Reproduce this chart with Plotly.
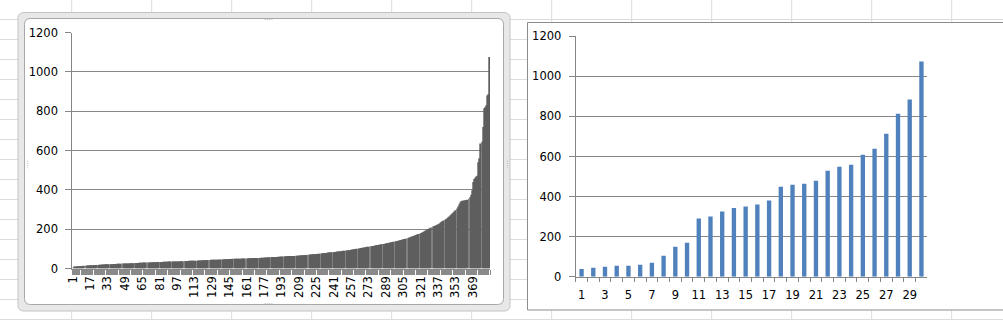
import plotly.graph_objects as go

W, H = 1003, 320

# ---------------- data ----------------
left_values = [
    5, 8, 10, 10, 11, 11, 12, 12, 13, 13, 14, 14, 14, 15, 15, 15,
    16, 16, 17, 17, 17, 18, 18, 18, 19, 19, 19, 20, 20, 20, 21, 21,
    21, 22, 22, 22, 22, 23, 23, 23, 23, 24, 24, 24, 24, 25, 25, 25,
    25, 26, 26, 26, 26, 27, 27, 27, 27, 28, 28, 28, 28, 29, 29, 29,
    29, 30, 30, 30, 30, 31, 31, 31, 31, 32, 32, 32, 32, 32, 33, 33,
    33, 33, 33, 34, 34, 34, 34, 34, 35, 35, 35, 35, 35, 35, 36, 36,
    36, 36, 36, 37, 37, 37, 37, 38, 38, 38, 38, 39, 39, 39, 39, 40,
    40, 40, 40, 41, 41, 41, 41, 42, 42, 42, 42, 43, 43, 43, 43, 44,
    44, 44, 44, 45, 45, 45, 45, 46, 46, 46, 46, 47, 47, 47, 47, 48,
    48, 48, 48, 49, 49, 49, 49, 50, 50, 50, 50, 50, 51, 51, 51, 51,
    51, 52, 52, 52, 52, 53, 53, 53, 53, 54, 54, 54, 54, 55, 55, 55,
    55, 56, 56, 56, 57, 57, 57, 58, 58, 58, 59, 59, 59, 60, 60, 60,
    61, 61, 61, 62, 62, 62, 63, 63, 63, 63, 64, 64, 64, 65, 65, 65,
    66, 66, 67, 67, 68, 68, 69, 69, 70, 70, 71, 71, 72, 72, 73, 73,
    74, 74, 75, 75, 76, 77, 77, 78, 79, 79, 80, 81, 81, 82, 83, 83,
    84, 84, 85, 86, 86, 87, 88, 88, 89, 90, 90, 91, 92, 93, 93, 94,
    95, 96, 97, 98, 99, 100, 101, 102, 103, 104, 105, 106, 107, 108, 109, 110,
    111, 112, 113, 114, 115, 116, 117, 118, 119, 120, 121, 122, 123, 124, 125, 126,
    128, 129, 130, 131, 132, 133, 135, 136, 137, 138, 140, 141, 142, 144, 145, 147,
    148, 150, 151, 153, 155, 157, 159, 161, 163, 165, 167, 169, 171, 173, 175, 178,
    180, 183, 186, 189, 192, 195, 198, 201, 204, 207, 210, 213, 216, 218, 220, 222,
    225, 228, 232, 236, 240, 244, 248, 252, 256, 260, 265, 270, 275, 280, 285, 290,
    296, 305, 315, 325, 335, 342, 344, 345, 346, 347, 348, 350, 355, 362, 375, 398,
    440, 455, 462, 468, 472, 540, 560, 635, 645, 720, 815, 820, 830, 880, 886, 1075,
]
left_categories = [str(i + 1) for i in range(len(left_values))]
left_label_step = 16

right_values = [38, 45, 50, 55, 55, 60, 70, 105, 150, 170,
                290, 300, 325, 343, 350, 360, 380, 449, 459, 464,
                479, 529, 549, 559, 609, 639, 714, 814, 884, 1074]
right_categories = [str(i + 1) for i in range(len(right_values))]
right_label_step = 2

y_ticks = [0, 200, 400, 600, 800, 1000, 1200]

# ---------------- helpers ----------------
def px(x):
    return x / W


def py(y):
    return 1 - y / H


def rrect_path(x0, y0, x1, y1, r):
    pts = [
        f"M {px(x0 + r)} {py(y0)}",
        f"L {px(x1 - r)} {py(y0)}",
        f"Q {px(x1)} {py(y0)} {px(x1)} {py(y0 + r)}",
        f"L {px(x1)} {py(y1 - r)}",
        f"Q {px(x1)} {py(y1)} {px(x1 - r)} {py(y1)}",
        f"L {px(x0 + r)} {py(y1)}",
        f"Q {px(x0)} {py(y1)} {px(x0)} {py(y1 - r)}",
        f"L {px(x0)} {py(y0 + r)}",
        f"Q {px(x0)} {py(y0)} {px(x0 + r)} {py(y0)}",
        "Z",
    ]
    return " ".join(pts)


GRID = "#868686"
FONT = dict(family="DejaVu Sans", size=11.5, color="#000000")

fig = go.Figure()

fig.add_trace(go.Bar(
    x=left_categories, y=left_values, marker=dict(color="#5e5e5e", line=dict(width=0)),
    xaxis="x", yaxis="y", showlegend=False, hoverinfo="skip",
))
fig.add_trace(go.Bar(
    x=right_categories, y=right_values, marker=dict(color="#4f81bd", line=dict(width=0)),
    xaxis="x2", yaxis="y2", showlegend=False, hoverinfo="skip",
))

shapes = []
# spreadsheet cell grid
for k in range(13):
    x = 71.7 + 80 * k
    if x < W:
        shapes.append(dict(type="line", xref="paper", yref="paper", layer="below",
                           x0=px(x), x1=px(x), y0=0, y1=1,
                           line=dict(color="#dadcdd", width=1)))
for k in range(16):
    y = 19.5 + 20 * k
    if y < H:
        shapes.append(dict(type="line", xref="paper", yref="paper", layer="below",
                           x0=0, x1=1, y0=py(y), y1=py(y),
                           line=dict(color="#dadcdd", width=1)))
# left chart (selected) frame
shapes.append(dict(type="path", xref="paper", yref="paper", layer="below",
                   path=rrect_path(18, 12.5, 510, 311, 6),
                   fillcolor="#e8e8e8", line=dict(color="#c4c4c4", width=1)))
shapes.append(dict(type="path", xref="paper", yref="paper", layer="below",
                   path=rrect_path(24.5, 18.5, 503.5, 304.5, 6),
                   fillcolor="#ffffff", line=dict(color="#a8a8a8", width=1)))
# right chart frame
shapes.append(dict(type="rect", xref="paper", yref="paper", layer="below",
                   x0=px(527.5), x1=px(1010), y0=py(310), y1=py(22.5),
                   fillcolor="#ffffff", line=dict(color="#8c8c8c", width=1)))

# selection handles on the left chart frame
handle_font = dict(family="DejaVu Sans", size=7, color="#9a9a9a")
annotations = [
    dict(x=px(262), y=py(13.5), text="····", showarrow=False, xref="paper", yref="paper", font=handle_font),
    dict(x=px(262), y=py(309.5), text="····", showarrow=False, xref="paper", yref="paper", font=handle_font),
    dict(x=px(21), y=py(164), text="····", textangle=90, showarrow=False, xref="paper", yref="paper", font=handle_font),
    dict(x=px(507), y=py(164), text="····", textangle=90, showarrow=False, xref="paper", yref="paper", font=handle_font),
]

left_ticktext = [c if (i % left_label_step == 0) else "" for i, c in enumerate(left_categories)]
right_ticktext = [c if (i % right_label_step == 0) else "" for i, c in enumerate(right_categories)]

yaxis_common = dict(
    range=[0, 1200], tickvals=y_ticks, showgrid=True, gridcolor=GRID, gridwidth=1,
    showline=True, linecolor=GRID, linewidth=1, ticks="outside", ticklen=6,
    tickcolor=GRID, tickfont=FONT, zeroline=False, fixedrange=True, automargin=False,
    ticklabelstandoff=5,
)

fig.update_layout(
    width=W, height=H, margin=dict(l=0, r=0, t=0, b=0, pad=0, autoexpand=False),
    paper_bgcolor="#ffffff", plot_bgcolor="rgba(0,0,0,0)",
    barmode="group",
    shapes=shapes, annotations=annotations,
    xaxis=dict(domain=[px(72.3), px(490)], type="category", anchor="y",
               tickmode="array", tickvals=left_categories, ticktext=left_ticktext,
               tickson="boundaries", ticks="outside", ticklen=5, tickcolor="#8a8a8a",
               tickangle=-90, tickfont=FONT, showgrid=False, automargin=False,
               ticklabelstandoff=2,
               showline=True, linecolor=GRID, linewidth=1, fixedrange=True),
    yaxis=dict(domain=[py(268.5), py(32.5)], anchor="x", **yaxis_common),
    xaxis2=dict(domain=[px(575.7), px(927.3)], type="category", anchor="y2",
                tickmode="array", tickvals=right_categories, ticktext=right_ticktext,
                tickson="boundaries", ticks="outside", ticklen=4, tickcolor=GRID,
                tickangle=0, tickfont=FONT, showgrid=False, automargin=False,
                ticklabelstandoff=7,
                showline=True, linecolor=GRID, linewidth=1, fixedrange=True),
    yaxis2=dict(domain=[py(276.7), py(36.3)], anchor="x2", **yaxis_common),
)
fig.update_traces(selector=dict(xaxis="x"), width=0.9)
fig.update_traces(selector=dict(xaxis="x2"), width=0.37)

fig.write_html("out.html")
